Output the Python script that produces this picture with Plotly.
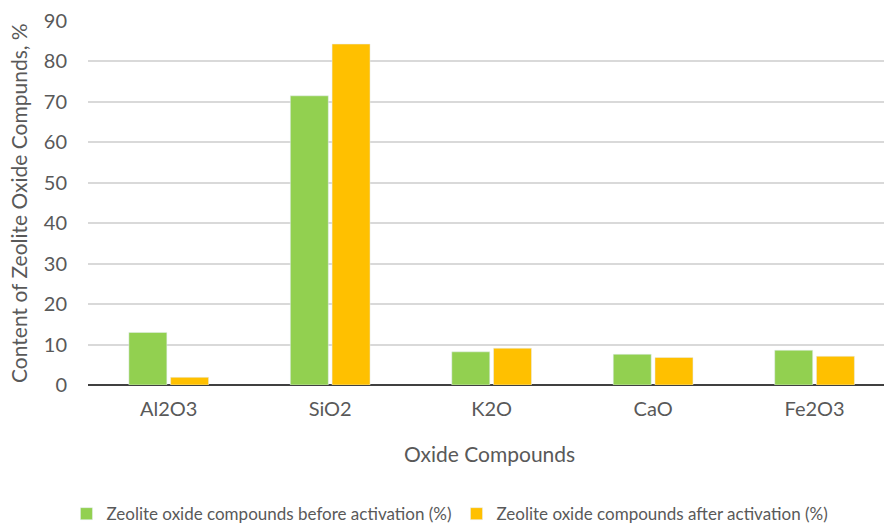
import plotly.graph_objects as go

categories = ["Al2O3", "SiO2", "K2O", "CaO", "Fe2O3"]
before_vals = [13.0, 71.5, 8.2, 7.6, 8.6]
after_vals = [1.9, 84.3, 9.1, 6.8, 7.1]
y_ticks = [0, 10, 20, 30, 40, 50, 60, 70, 80, 90]

FONT = "Lato"
GRAY = "#595959"

fig = go.Figure()
fig.add_trace(go.Bar(x=categories, y=before_vals,
                     name="Zeolite oxide compounds before activation (%)",
                     marker=dict(color="#92D050")))
fig.add_trace(go.Bar(x=categories, y=after_vals,
                     name="Zeolite oxide compounds after activation (%)",
                     marker=dict(color="#FFC000")))

fig.update_layout(
    width=884, height=523,
    margin=dict(l=88, r=0, t=21, b=138, autoexpand=False),
    paper_bgcolor="white", plot_bgcolor="white",
    font=dict(family=FONT, color=GRAY, size=17),
    barmode="group", bargap=0.483, bargroupgap=0.09,
    showlegend=True,
    legend=dict(orientation="h", xref="container", yref="container",
                x=0.509, xanchor="center", y=0.017, yanchor="middle",
                font=dict(size=17, color=GRAY), traceorder="normal",
                itemwidth=30, tracegroupgap=0),
    xaxis=dict(range=[-0.5, 4.43], showgrid=False, ticks="", automargin=False,
               tickfont=dict(size=20, color=GRAY), ticklabelstandoff=10),
    yaxis=dict(range=[0, 90], tickvals=y_ticks, gridcolor="#D9D9D9", gridwidth=1.5,
               zeroline=True, zerolinecolor="#404040", zerolinewidth=1.5, automargin=False,
               tickfont=dict(size=20, color=GRAY), ticklabelstandoff=20),
    annotations=[
        dict(text="Oxide Compounds", xref="paper", yref="paper", x=0.505, y=-0.187,
             xanchor="center", yanchor="middle", showarrow=False,
             font=dict(size=21, color=GRAY)),
        dict(text="Content of Zeolite Oxide Compunds, %", xref="paper", yref="paper",
             x=-0.088, y=0.5, xanchor="center", yanchor="middle", textangle=-90,
             showarrow=False, font=dict(size=21, color=GRAY)),
    ],
)

fig.write_html("out.html")
